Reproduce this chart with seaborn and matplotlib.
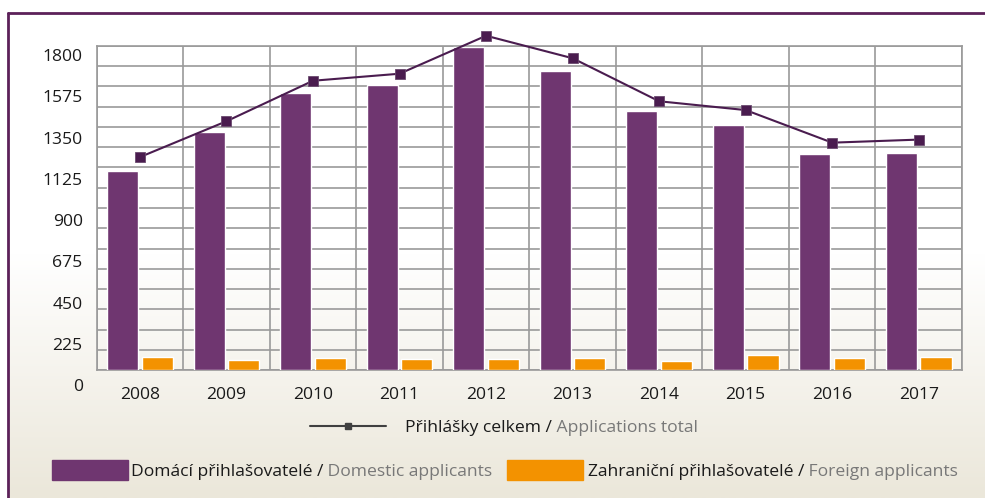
import numpy as np
import pandas as pd
import matplotlib
matplotlib.use('Agg')
import matplotlib.pyplot as plt
import seaborn as sns
from matplotlib.lines import Line2D
from matplotlib.patches import Patch

# data
years    = ['2008', '2009', '2010', '2011', '2012', '2013', '2014', '2015', '2016', '2017']
domestic = [1106, 1322, 1539, 1583, 1796, 1661, 1441, 1361, 1200, 1206]
foreign  = [72, 56, 67, 61, 61, 67, 50, 83, 67, 72]
totals   = [1183, 1382, 1607, 1646, 1857, 1732, 1493, 1444, 1263, 1280]
y_labels = [0, 225, 450, 675, 900, 1125, 1350, 1575, 1800]

lbl_dom   = 'Domácí přihlašovatelé /'
lbl_dom_e = ' Domestic applicants'
lbl_for   = 'Zahraniční přihlašovatelé /'
lbl_for_e = ' Foreign applicants'
lbl_tot   = 'Přihlášky celkem /'
lbl_tot_e = ' Applications total'

PURPLE = '#6f3670'
ORANGE = '#f39200'
LINE   = '#4a1c4f'
GRID   = '#9a9a9a'
BORDER = '#5c2159'
GREY_T = '#787878'
TXT    = '#1a1a1a'

sns.set_theme(style='white')
plt.rcParams['font.family'] = ['Open Sans', 'DejaVu Sans']

W, H = 985, 498
fs = 12.6
fig = plt.figure(figsize=(W / 100, H / 100), dpi=100)
fig.patch.set_facecolor('white')

# background gradient inside the purple frame
bg = fig.add_axes([8 / W, 0, 1 - 8 / W, (H - 13) / H], zorder=-10)
grad = np.linspace(0, 1, 256).reshape(-1, 1)
cmap = matplotlib.colors.LinearSegmentedColormap.from_list('bg', ['#ffffff', '#ffffff', '#ebe7da'])
bg.imshow(grad, aspect='auto', cmap=cmap, extent=[0, 1, 0, 1], origin='upper')
bg.set_axis_off()

# frame lines (left + top)
fig.add_artist(Line2D([8 / W, 8 / W], [0, 1 - 13 / H], color=BORDER, lw=2, transform=fig.transFigure))
fig.add_artist(Line2D([8 / W, 1], [1 - 13 / H, 1 - 13 / H], color=BORDER, lw=2, transform=fig.transFigure))

ax = fig.add_axes([96.7 / W, (H - 370) / H, (962 - 96.7) / W, (370 - 46) / H])
ax.set_facecolor('none')

df = pd.DataFrame({
    'year': years * 2,
    'value': domestic + foreign,
    'group': ['dom'] * len(years) + ['for'] * len(years),
})
sns.barplot(data=df, x='year', y='value', hue='group', palette=[PURPLE, ORANGE],
            width=0.8, gap=0.1, saturation=1, legend=False, ax=ax, zorder=3)

sns.pointplot(x=years, y=totals, color=LINE, markers='s', markersize=7,
              linewidth=1.5, ax=ax, zorder=5)
for ln in ax.lines:
    ln.set_clip_on(False)
    ln.set_markeredgecolor('#6a4a6e')
    ln.set_markeredgewidth(0.6)

ax.set_ylim(0, 1800)
ax.set_xlim(-0.5, len(years) - 0.5)
ax.set_yticks(np.arange(0, 1800.1, 112.5))
ax.set_yticklabels([])
ax.set_xticks(np.arange(-0.5, len(years), 1.0), minor=True)
ax.grid(True, which='major', axis='y', color=GRID, lw=1.2, zorder=0)
ax.grid(True, which='minor', axis='x', color=GRID, lw=1.2, zorder=0)
ax.set_axisbelow(True)
ax.tick_params(axis='both', which='both', length=0)
ax.tick_params(axis='x', pad=12, labelsize=fs, labelcolor=TXT)
ax.set_xlabel('')
ax.set_ylabel('')
for side in ['left', 'right', 'top', 'bottom']:
    ax.spines[side].set_visible(True)
    ax.spines[side].set_color(GRID)
    ax.spines[side].set_linewidth(1.2)

# y labels sit slightly off the grid lines, as in the original
for k, v in enumerate(y_labels):
    ypx = 387 - 41.25 * k
    ax.text(-14 / (962 - 96.7), (370 - ypx) / 324, str(v), transform=ax.transAxes,
            ha='right', va='center', fontsize=fs, color=TXT)

fpx = fs * 100 / 72
h_tot = Line2D([], [], color='#404040', lw=1.5, marker='s', markersize=5)
leg1 = fig.legend([h_tot], [lbl_tot], loc='center left', bbox_to_anchor=(310 / W, 1 - 428 / H),
                  frameon=False, borderpad=0, borderaxespad=0, fontsize=fs,
                  handlelength=76 / fpx, handletextpad=19 / fpx, numpoints=1)
leg2 = fig.legend([Patch(color=PURPLE)], [lbl_dom], loc='center left', bbox_to_anchor=(52 / W, 1 - 470 / H),
                  frameon=False, borderpad=0, borderaxespad=0, fontsize=fs,
                  handlelength=76 / fpx, handleheight=23 / fpx, handletextpad=3 / fpx)
leg3 = fig.legend([Patch(color=ORANGE)], [lbl_for], loc='center left', bbox_to_anchor=(507 / W, 1 - 470 / H),
                  frameon=False, borderpad=0, borderaxespad=0, fontsize=fs,
                  handlelength=76 / fpx, handleheight=23 / fpx, handletextpad=5 / fpx)
for lg in (leg1, leg2, leg3):
    for t in lg.get_texts():
        t.set_color(TXT)

fig.canvas.draw()
for lg, extra in ((leg1, lbl_tot_e), (leg2, lbl_dom_e), (leg3, lbl_for_e)):
    bb = lg.get_texts()[0].get_window_extent()
    fig.text(bb.x1 / W, bb.y0 / H, extra, ha='left', va='bottom', fontsize=fs, color=GREY_T)

fig.savefig('out.png', dpi=100)
